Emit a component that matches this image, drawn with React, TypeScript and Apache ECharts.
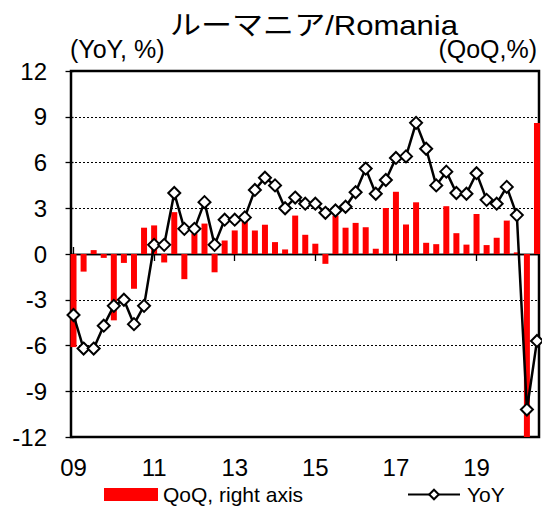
import React, { useEffect, useRef } from 'react';
import * as echarts from 'echarts';

// Quarterly data, 2009Q1 .. 2020Q3
const yearLabels = ['09', '11', '13', '15', '17', '19'];
const labelPositions = [0, 8, 16, 24, 32, 40];

// YoY, % (left axis)
const yoy = [
  -4.0, -6.2, -6.2, -4.7, -3.4, -3.0, -4.6, -3.4,
  0.6, 0.6, 4.0, 1.65, 1.65, 3.4, 0.6, 2.25,
  2.25, 2.4, 4.2, 5.0, 4.5, 3.0, 3.7, 3.3,
  3.3, 2.7, 2.85, 3.1, 4.05, 5.6, 3.95, 4.85,
  6.3, 6.4, 8.6, 6.9, 4.5, 5.4, 4.0, 3.95,
  5.3, 3.55, 3.3, 4.4, 2.55, -10.2, -5.7,
];

// QoQ, % (right axis)
const qoq = [
  -4.07, -0.77, 0.17, -0.17, -2.9, -0.39, -1.52, 1.15,
  1.25, -0.37, 1.83, -1.1, 0.9, 1.33, -0.8, 0.59,
  1.03, 1.42, 1.03, 1.28, 0.52, 0.2, 1.68, 0.84,
  0.45, -0.43, 1.68, 1.15, 1.36, 1.17, 0.23, 2.01,
  2.72, 1.29, 2.26, 0.49, 0.43, 2.09, 0.91, 0.41,
  1.75, 0.39, 0.71, 1.46, 0.07, -12.3, 5.73,
];

const FONT = "'Liberation Sans', Arial, sans-serif";
const TITLE_FONT = "'Liberation Sans', 'Noto Sans CJK JP', sans-serif";

export default function App() {
  const ref = useRef<HTMLDivElement>(null);

  useEffect(() => {
    document.body.style.margin = '0';
    const chart = echarts.init(ref.current as HTMLDivElement, null, { renderer: 'svg' });
    const xMin = -0.25;
    const xMax = 46.2;
    const tickAxis = (inside: boolean, yIdx: number) => ({
      type: 'value',
      min: xMin,
      max: xMax,
      position: 'bottom',
      axisLine: { show: true, onZero: true, onZeroAxisIndex: yIdx, lineStyle: { color: '#000', width: 1.3 } },
      axisTick: { show: true, inside, length: 7, customValues: labelPositions, lineStyle: { color: '#000', width: 1.3 } },
      axisLabel: { show: false },
      splitLine: { show: false },
    });

    const option: any = {
      animation: false,
      backgroundColor: '#fff',
      grid: {
        left: 71, right: 3, top: 71, bottom: 71,
        show: true, borderColor: '#000', borderWidth: 2.5, containLabel: false,
      },
      graphic: [
        {
          type: 'text', x: 314, y: 26, scaleX: 1.15, scaleY: 1,
          style: { text: 'ルーマニア/Romania', font: `27px ${TITLE_FONT}`, fill: '#000', textAlign: 'center', textVerticalAlign: 'middle' },
        },
        {
          type: 'text', x: 70, y: 49,
          style: { text: '(YoY, %)', font: `25px ${FONT}`, fill: '#000', textAlign: 'left', textVerticalAlign: 'middle' },
        },
        {
          type: 'text', x: 537, y: 49,
          style: { text: '(QoQ,%)', font: `25px ${FONT}`, fill: '#000', textAlign: 'right', textVerticalAlign: 'middle' },
        },
      ],
      legend: [
        {
          data: ['QoQ, right axis'], left: 104, top: 484, padding: 0,
          itemWidth: 54, itemHeight: 13, icon: 'rect',
          textStyle: { fontSize: 21, fontFamily: FONT, color: '#000' },
        },
        {
          data: ['YoY'], left: 407, top: 484, padding: 0,
          itemWidth: 52, itemHeight: 12,
          textStyle: { fontSize: 21, fontFamily: FONT, color: '#000', padding: [0, 0, 0, 2] },
        },
      ],
      xAxis: [
        {
          type: 'value', min: xMin, max: xMax, position: 'bottom',
          axisLine: { show: false, onZero: false },
          axisTick: { show: false },
          splitLine: { show: false },
          axisLabel: {
            customValues: labelPositions,
            formatter: (v: number) => {
              const k = labelPositions.indexOf(Math.round(v));
              return k >= 0 ? yearLabels[k] : '';
            },
            fontSize: 24, fontFamily: FONT, color: '#000', margin: 18,
          },
        },
        tickAxis(true, 0),
        tickAxis(false, 1),
      ],
      yAxis: [
        {
          type: 'value', min: -12, max: 12, interval: 3, position: 'left',
          axisLine: { show: false },
          axisTick: { show: false },
          axisLabel: { fontSize: 24, fontFamily: FONT, color: '#000', margin: 24 },
          splitLine: { show: true, lineStyle: { type: [2, 2], color: '#000', width: 1 } },
        },
        {
          type: 'value', min: -8, max: 8, interval: 2, position: 'right',
          axisLine: { show: false },
          axisTick: { show: true, inside: true, length: 8, lineStyle: { color: '#000', width: 1.3 } },
          axisLabel: { show: false },
          splitLine: { show: false },
        },
      ],
      series: [
        {
          type: 'bar', name: 'QoQ, right axis', xAxisIndex: 0, yAxisIndex: 1,
          data: qoq.map((v, i) => [i, v]),
          barWidth: 6,
          itemStyle: { color: '#ff0000' },
        },
        {
          type: 'line', name: 'YoY', xAxisIndex: 0, yAxisIndex: 0,
          data: yoy.map((v, i) => [i, v]),
          symbol: 'diamond', symbolSize: 12, showAllSymbol: true,
          lineStyle: { color: '#000', width: 2.5 },
          itemStyle: { color: '#fff', borderColor: '#000', borderWidth: 2 },
          clip: false, z: 3,
        },
      ],
    };
    chart.setOption(option);
    return () => chart.dispose();
  }, []);

  return <div ref={ref} style={{ width: 542, height: 508 }} />;
}
